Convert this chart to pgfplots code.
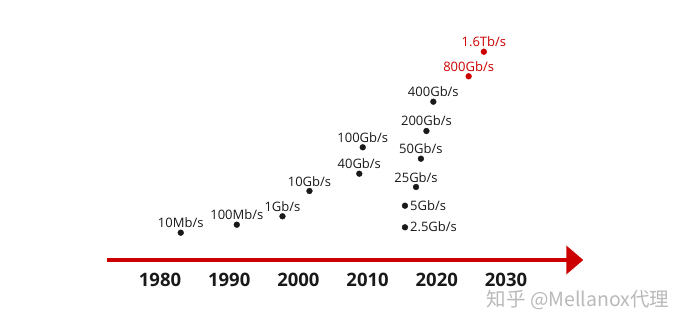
\documentclass[border=0pt]{standalone}
\usepackage{pgfplots}
\pgfplotsset{compat=1.18}
\usepackage{pgfplotstable}
\usepackage{fontspec}
\setmainfont{Open Sans}
\newfontfamily\cjk{Noto Sans CJK SC}
\usetikzlibrary{arrows.meta}
\definecolor{hwred}{RGB}{204,0,0}
\definecolor{wmgray}{RGB}{185,185,185}

\pgfplotstableread{
x y label
1983.0 27.3 10Mb/s
1991.1 35.3 100Mb/s
1997.7 43.7 1Gb/s
2001.6 69.0 10Gb/s
2008.8 86.3 40Gb/s
2009.3 112.7 100Gb/s
2017.0 73.0 25Gb/s
2017.7 101.3 50Gb/s
2018.5 129.0 200Gb/s
2019.5 158.3 400Gb/s
}\blackabove
\pgfplotstableread{
x y label
2015.4 32.7 2.5Gb/s
2015.4 54.3 5Gb/s
}\blackright
\pgfplotstableread{
x y label
2024.6 183.7 800Gb/s
2026.8 208.3 1.6Tb/s
}\redabove

\begin{document}
\begin{tikzpicture}
\begin{axis}[
  scale only axis, width=692pt, height=324pt,
  xmin=1956.88, xmax=2056.88, ymin=-64, ymax=260,
  hide axis, clip=false,
]
\path (rel axis cs:0,0) rectangle (rel axis cs:1,1);
\addplot[hwred, line width=4pt, -{Triangle[length=17pt,width=28pt]}] coordinates {(1972.34,0) (2041.17,0)};

\addplot[only marks, mark=*, mark size=2.9pt, color=black!90,
  nodes near coords, point meta=explicit symbolic,
  every node near coord/.style={font=\fontsize{13}{15}\selectfont, text=black!90, inner sep=0pt, anchor=base, yshift=5pt}]
  table[meta=label] {\blackabove};
\addplot[only marks, mark=*, mark size=2.9pt, color=black!90,
  nodes near coords, point meta=explicit symbolic,
  every node near coord/.style={font=\fontsize{13}{15}\selectfont, text=black!90, inner sep=0pt, anchor=base west, xshift=5pt, yshift=-4.5pt}]
  table[meta=label] {\blackright};
\addplot[only marks, mark=*, mark size=2.9pt, color=hwred,
  nodes near coords, point meta=explicit symbolic,
  every node near coord/.style={font=\fontsize{13}{15}\selectfont, text=hwred, inner sep=0pt, anchor=base, yshift=5pt}]
  table[meta=label] {\redabove};

\node[anchor=base, font=\fontsize{18.5}{20}\selectfont\bfseries, text=black!90] at (axis cs:1980,-26.7) {1980};
\node[anchor=base, font=\fontsize{18.5}{20}\selectfont\bfseries, text=black!90] at (axis cs:1990,-26.7) {1990};
\node[anchor=base, font=\fontsize{18.5}{20}\selectfont\bfseries, text=black!90] at (axis cs:2000,-26.7) {2000};
\node[anchor=base, font=\fontsize{18.5}{20}\selectfont\bfseries, text=black!90] at (axis cs:2010,-26.7) {2010};
\node[anchor=base, font=\fontsize{18.5}{20}\selectfont\bfseries, text=black!90] at (axis cs:2020,-26.7) {2020};
\node[anchor=base, font=\fontsize{18.5}{20}\selectfont\bfseries, text=black!90] at (axis cs:2030,-26.7) {2030};

\node[anchor=center, font=\cjk\fontsize{19.5}{21}\selectfont, text=wmgray, inner sep=0pt] at (axis cs:2040.4,-40) {知乎 @Mellanox代理};
\end{axis}
\end{tikzpicture}
\end{document}
